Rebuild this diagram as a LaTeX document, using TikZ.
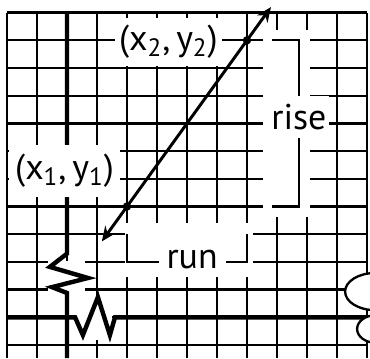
\documentclass[tikz,border=0pt]{standalone}
\usepackage{fontspec}
\setmainfont{PT Sans}
\usetikzlibrary{arrows.meta,calc}

\begin{document}
\begin{tikzpicture}[x=0.5cm,y=0.4617cm,
  gridline/.style={line width=1.1pt},
  axisline/.style={line width=2.1pt},
  whiteout/.style={fill=white,draw=none},
  tag/.style={fill=white,inner sep=0pt,font=\fontsize{17}{20}\selectfont}]
  \useasboundingbox (-0.233,-0.47) rectangle (12.1,12.455);
  \clip (-0.233,-0.47) rectangle (12.1,12.455);
  \foreach \col in {0,1,...,12}
    \draw[gridline] (\col,-0.47) -- (\col,12);
  \foreach \row in {0,1,...,12}
    \draw[gridline] (0,\row) -- (12,\row);
  \fill[whiteout] (8.53,4.62) rectangle (10.1,11.37);
  \fill[whiteout] (3.93,2.45) rectangle (8.2,4.4);
  \fill[whiteout] (1.37,1.95) rectangle (2.6,3.05);
  \fill[whiteout] (2.3,0.2) rectangle (3.5,1.72);
  \draw[axisline] (2,12) -- (2,3.3) -- (1.43,2.82) -- (2.7,2.42) -- (1.5,2.09) -- (2,1.88) -- (2,-0.47);
  \draw[axisline] (0,1) -- (2.27,1) -- (2.53,0.36) -- (3.03,1.73) -- (3.43,0.36) -- (3.6,1) -- (12,1);
  \draw[gridline,fill=white] (12.27,1.93) ellipse [x radius=1,y radius=0.67];
  \draw[gridline,fill=white] (12.3,0.58) ellipse [x radius=0.63,y radius=0.5];
  \coordinate (p1) at (4,5);
  \coordinate (p2) at (8,11);
  \draw[gridline] (8.83,11) -- (9.73,11) -- (9.73,5) -- (8.83,5);
  \draw[gridline] (4,4) -- (4,3) -- (8,3) -- (8,4);
  \node[tag,minimum width=1.78cm,minimum height=0.8cm] (ptwo) at (5.38,10.94) {(x\textsubscript{2},\,y\textsubscript{2})};
  \node[tag,minimum width=1.85cm,minimum height=0.867cm] (pone) at (1.92,6.28) {(x\textsubscript{1},\,y\textsubscript{1})};
  \node[tag,inner xsep=1pt,minimum height=0.7cm] (riselbl) at (9.73,8.23) {rise};
  \node[tag,inner ysep=2pt,minimum width=1.117cm] (runlbl) at (6.17,3.1) {run};
  \draw[line width=1.4pt,{Stealth[length=7pt,width=6pt]}-{Stealth[length=7pt,width=6pt]}] ($(p1)!-0.21!(p2)$) -- ($(p1)!1.2!(p2)$);
  \fill (p1) circle (2pt);
  \fill (p2) circle (2pt);
\end{tikzpicture}
\end{document}
